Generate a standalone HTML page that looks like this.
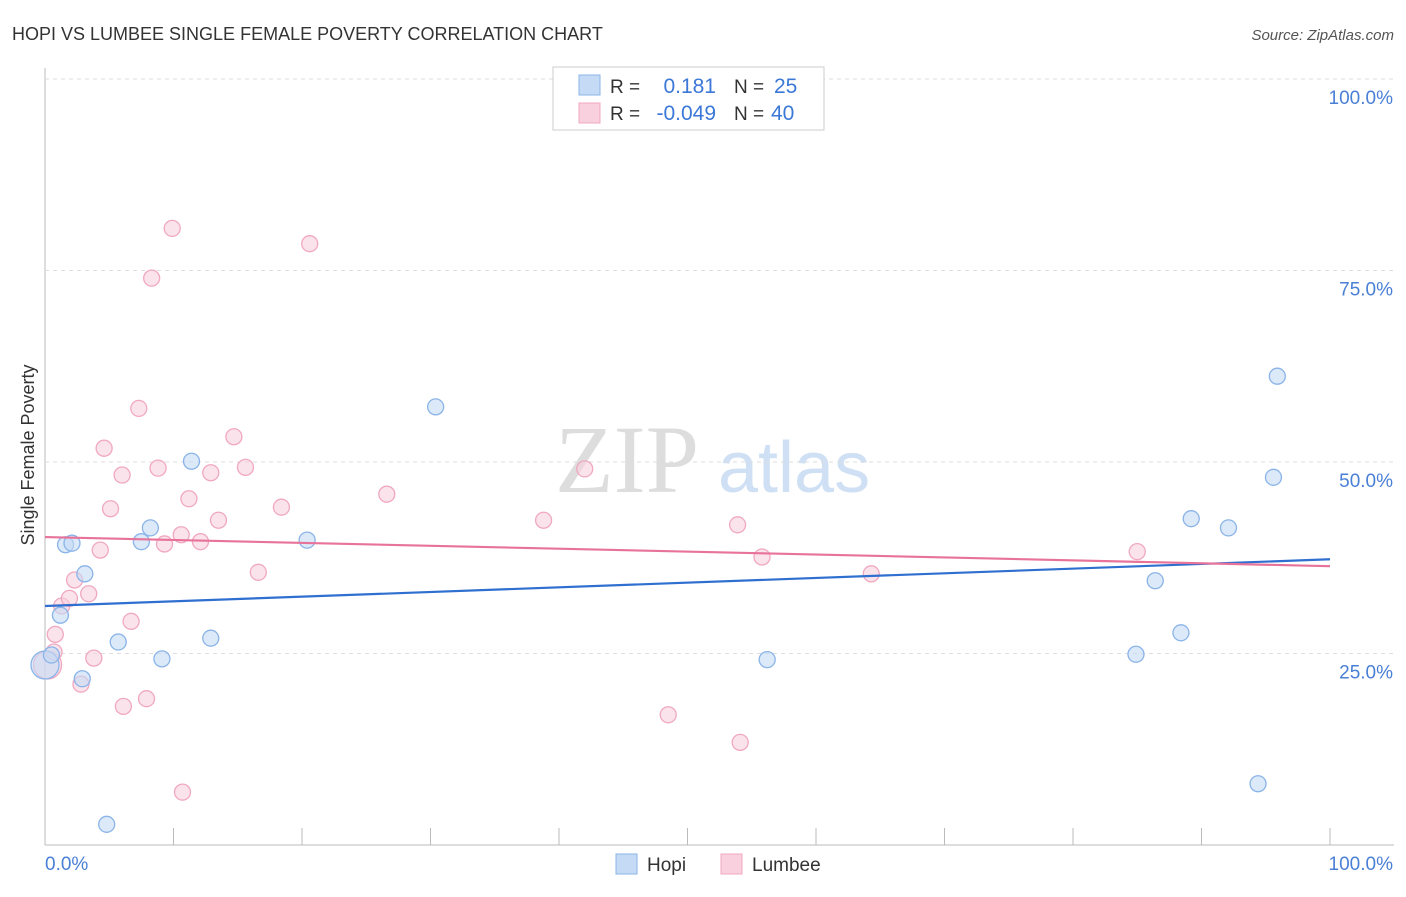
<!DOCTYPE html>
<html><head><meta charset="utf-8"><style>
body{margin:0;background:#fff;font-family:"Liberation Sans",sans-serif;}
</style></head><body>
<svg width="1406" height="892" viewBox="0 0 1406 892" xmlns="http://www.w3.org/2000/svg" id="svg">
<text x="12" y="40" font-size="18" fill="#333">HOPI VS LUMBEE SINGLE FEMALE POVERTY CORRELATION CHART</text>
<text x="1394" y="40" font-size="15" fill="#555" text-anchor="end" font-style="italic">Source: ZipAtlas.com</text>
<text x="555" y="492" font-size="96" fill="#ddd" font-family="Liberation Serif,serif">ZIP</text>
<text x="718" y="492" font-size="72" fill="#cfe0f5">atlas</text>
<text transform="translate(34,455) rotate(-90)" font-size="18" fill="#333" text-anchor="middle">Single Female Poverty</text>
<g id="grid"></g><g id="marks"></g>
<g>
<rect x="553" y="67" width="271" height="63" fill="#fff" stroke="#ccc"/>
<rect x="579" y="75" width="21" height="20" fill="#c5dbf5" stroke="#8ab4e8"/>
<rect x="579" y="103" width="21" height="20" fill="#f9d0dd" stroke="#f0a8c0"/>
<text x="610" y="93" font-size="19" fill="#333">R =</text>
<text x="716" y="93" font-size="21" fill="#3b78d8" text-anchor="end">0.181</text>
<text x="734" y="93" font-size="19" fill="#333">N =</text>
<text x="774" y="93" font-size="21" fill="#3b78d8">25</text>
<text x="610" y="120" font-size="19" fill="#333">R =</text>
<text x="716" y="120" font-size="21" fill="#3b78d8" text-anchor="end">-0.049</text>
<text x="734" y="120" font-size="19" fill="#333">N =</text>
<text x="771" y="120" font-size="21" fill="#3b78d8">40</text>
</g>
<g>
<rect x="616" y="854" width="21" height="20" fill="#c5dbf5" stroke="#8ab4e8"/>
<text x="647" y="871" font-size="19" fill="#333">Hopi</text>
<rect x="721" y="854" width="21" height="20" fill="#f9d0dd" stroke="#f0a8c0"/>
<text x="752" y="871" font-size="19" fill="#333">Lumbee</text>
</g>
</svg>
<script>
const yTicks=[25,50,75,100];
const yTickLabels=["25.0%","50.0%","75.0%","100.0%"];
const hopiX=[0,0.5,1.2,1.6,2.1,2.9,3.1,4.8,5.7,7.5,8.2,9.1,11.4,12.9,20.4,30.4,56.2,84.9,86.4,88.4,89.2,92.1,94.4,95.6,95.9];
const hopiY=[23.5,24.8,30.0,39.2,39.4,21.7,35.4,2.7,26.5,39.6,41.4,24.3,50.1,27.0,39.8,57.2,24.2,24.9,34.5,27.7,42.6,41.4,8.0,48.0,61.2];
const lumX=[0.2,0.7,0.8,1.3,1.9,2.3,2.8,3.4,3.8,4.3,4.6,5.1,6.0,6.1,6.7,7.3,7.9,8.3,8.8,9.3,9.9,10.6,10.7,11.2,12.1,12.9,13.5,14.7,15.6,16.6,18.4,20.6,26.6,38.8,42.0,48.5,53.9,54.1,55.8,64.3,85.0];
const lumY=[23.5,25.2,27.5,31.2,32.2,34.6,21.0,32.8,24.4,38.5,51.8,43.9,48.3,18.1,29.2,57.0,19.1,74.0,49.2,39.3,80.5,40.5,6.9,45.2,39.6,48.6,42.4,53.3,49.3,35.6,44.1,78.5,45.8,42.4,49.1,17.0,41.8,13.4,37.6,35.4,38.3];
const hopiTrend=[31.2,37.3];
const lumTrend=[40.2,36.4];
const NS="http://www.w3.org/2000/svg";
const X=v=>45+v*12.85, Y=v=>845-v*7.66;
function mk(p,t,a){const e=document.createElementNS(NS,t);for(const k in a)e.setAttribute(k,a[k]);p.appendChild(e);return e;}
const g=document.getElementById('grid'),m=document.getElementById('marks');
let ax=mk(g,'line',{x1:45,y1:68,x2:45,y2:845,stroke:'#bbb'});

let bx=mk(g,'line',{x1:45,y1:845,x2:1394,y2:845,stroke:'#bbb'});

yTicks.forEach((t,i)=>{
 const l=mk(g,'line',{x1:45,x2:1394,y1:Y(t),y2:Y(t),stroke:'#ddd','stroke-dasharray':'4,4'});
 
 const tx=mk(g,'text',{x:1393,y:Y(t)+25,'font-size':19,fill:'#4a7fd6','text-anchor':'end'});
 tx.textContent=yTickLabels[i];
 
});
for(let i=0;i<=10;i++){const l=mk(g,'line',{x1:X(i*10),x2:X(i*10),y1:828,y2:845,stroke:'#bbb'});
 }
[["0.0%",45,'start'],["100.0%",1393,'end']].forEach(d=>{const t=mk(g,'text',{x:d[1],y:870,'font-size':19,fill:'#4a7fd6','text-anchor':d[2]});t.textContent=d[0];
 });
function pts(xs,ys,f,s,name){xs.forEach((x,i)=>{const c=mk(m,'circle',{cx:X(x),cy:Y(ys[i]),r:i==0?14:8,fill:f,'fill-opacity':0.6,stroke:s,'stroke-width':1.3});
 });}
pts(lumX,lumY,'#f9d0dd','#f0a8c0','lumbee-point');
pts(hopiX,hopiY,'#c5dbf5','#8ab4e8','hopi-point');
let t1=mk(m,'line',{x1:X(0),x2:X(100),y1:Y(hopiTrend[0]),y2:Y(hopiTrend[1]),stroke:'#2f6fd0','stroke-width':2.2});

let t2=mk(m,'line',{x1:X(0),x2:X(100),y1:Y(lumTrend[0]),y2:Y(lumTrend[1]),stroke:'#e8739a','stroke-width':2.2});

</script>
</body></html>
